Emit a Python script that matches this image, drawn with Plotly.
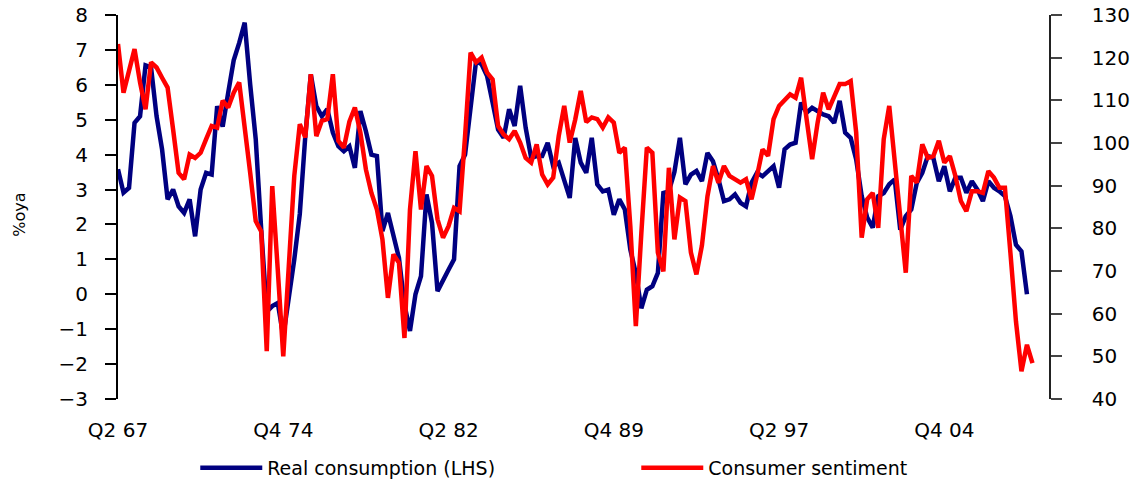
import plotly.graph_objects as go

# Quarterly categories starting Q2 1967
quarters = []
q, yr = 2, 1967
for _ in range(170):
    quarters.append(f"Q{q} {yr % 100:02d}")
    q += 1
    if q > 4:
        q = 1
        yr += 1

tick_labels = ["Q2 67", "Q4 74", "Q2 82", "Q4 89", "Q2 97", "Q4 04"]

# Real consumption, %oya (left axis)
consumption = [
    3.58, 2.91, 3.05, 4.91, 5.10, 6.56, 6.50, 5.10, 4.15, 2.72,
    3.00, 2.52, 2.33, 2.72, 1.66, 3.00, 3.48, 3.43, 5.39, 4.80,
    5.77, 6.70, 7.20, 7.78, 6.00, 4.45, 1.85, -0.50, -0.34, -0.25,
    -1.20, -0.20, 1.00, 2.30, 4.53, 6.30, 5.39, 5.10, 5.30, 4.63,
    4.24, 4.10, 4.24, 3.62, 5.25, 4.67, 4.00, 3.96, 1.81, 2.33,
    1.66, 1.04, -0.30, -1.05, 0.00, 0.52, 2.86, 2.05, 0.09, 0.37,
    0.70, 1.00, 3.67, 4.00, 5.39, 6.68, 6.59, 6.25, 5.49, 4.72,
    4.48, 5.30, 4.82, 5.97, 4.77, 3.91, 3.96, 3.96, 4.34, 3.67,
    3.77, 3.29, 2.76, 4.48, 3.77, 3.48, 4.48, 3.15, 2.95, 3.00,
    2.28, 2.72, 2.43, 1.28, 0.60, -0.40, 0.13, 0.23, 0.61, 2.90,
    2.95, 3.50, 4.48, 3.15, 3.43, 3.53, 3.24, 4.05, 3.81, 3.29,
    2.67, 2.72, 2.86, 2.62, 2.52, 3.19, 3.48, 3.38, 3.53, 3.67,
    3.05, 4.15, 4.29, 4.34, 5.49, 5.20, 5.34, 5.25, 5.15, 5.10,
    4.91, 5.54, 4.63, 4.48, 3.86, 2.81, 2.20, 1.91, 2.81, 2.90,
    3.15, 3.29, 1.85, 2.24, 2.43, 3.19, 3.48, 3.96, 3.91, 3.24,
    3.67, 2.95, 3.34, 3.34, 2.91, 3.24, 3.00, 2.67, 3.24, 3.05,
    2.95, 2.81, 2.24, 1.42, 1.23, 0.00,
]

# Consumer sentiment index (right axis)
sentiment = [
    123.2, 111.8, 116.9, 122.0, 114.2, 107.9, 118.9, 117.7, 115.3, 113.0,
    103.2, 93.0, 91.5, 97.3, 96.5, 97.7, 100.9, 104.0, 103.6, 109.9,
    108.3, 111.8, 114.2, 104.4, 93.0, 81.7, 79.3, 51.2, 89.9, 70.3,
    50.0, 71.1, 92.3, 104.4, 101.3, 116.1, 101.6, 105.2, 105.6, 116.1,
    100.5, 98.9, 105.0, 108.3, 102.4, 93.8, 88.3, 84.4, 77.4, 63.7,
    73.9, 71.9, 54.3, 84.4, 98.1, 84.4, 94.6, 92.3, 82.1, 77.8,
    80.5, 84.8, 84.0, 101.6, 121.2, 118.9, 120.0, 116.5, 114.9, 104.0,
    102.0, 100.9, 102.8, 100.1, 96.5, 95.4, 99.7, 92.6, 90.3, 91.9,
    101.6, 108.7, 100.1, 105.5, 112.2, 104.9, 106.0, 105.6, 103.6, 106.0,
    104.8, 97.7, 98.9, 80.5, 57.1, 78.9, 98.9, 97.7, 74.3, 69.9,
    94.2, 77.4, 87.2, 86.4, 74.3, 69.2, 76.0, 87.5, 94.6, 90.7,
    94.6, 92.3, 91.5, 90.7, 91.5, 86.8, 92.3, 98.5, 97.0, 105.6,
    108.7, 110.2, 111.4, 110.6, 115.3, 105.6, 96.2, 104.8, 111.8, 107.9,
    110.6, 113.8, 113.8, 114.5, 102.4, 77.8, 86.8, 88.3, 80.1, 100.9,
    108.7, 95.8, 82.5, 69.6, 92.3, 90.7, 99.7, 96.5, 96.9, 100.5,
    95.4, 96.9, 92.3, 86.4, 84.0, 88.7, 88.7, 88.3, 93.4, 91.9,
    89.5, 89.5, 74.2, 58.2, 46.5, 52.7, 48.4,
]

FONT = "DejaVu Sans"
tick_font = dict(family=FONT, size=20, color="black")

fig = go.Figure()
fig.add_trace(go.Scatter(
    x=quarters[:len(consumption)], y=consumption, mode="lines",
    name="Real consumption (LHS)",
    line=dict(color="#000080", width=4.5),
))
fig.add_trace(go.Scatter(
    x=quarters[:len(sentiment)], y=sentiment, mode="lines",
    name="Consumer sentiment", yaxis="y2",
    line=dict(color="#FF0000", width=4.5),
))

fig.update_layout(
    width=1130, height=484,
    margin=dict(l=118, r=81, t=15, b=85, autoexpand=False),
    paper_bgcolor="white", plot_bgcolor="white",
    xaxis=dict(
        type="category", range=[0, 169], automargin=False,
        tickvals=tick_labels, ticktext=tick_labels,
        showline=False, ticks="", showgrid=False, zeroline=False,
        tickfont=tick_font, ticklabelstandoff=17,
    ),
    xaxis2=dict(
        overlaying="x", anchor="free", position=3 / 11,
        type="linear", range=[0, 169], automargin=False,
        tickvals=[0, 30, 60, 90, 120, 150],
        showticklabels=False, showline=True, linecolor="black", linewidth=2,
        ticks="outside", ticklen=7, tickwidth=2, tickcolor="black",
        showgrid=False, zeroline=False,
    ),
    yaxis=dict(
        range=[-3, 8], tick0=0, dtick=1, automargin=False,
        showline=True, linecolor="black", linewidth=2,
        ticks="outside", ticklen=11, tickwidth=1.5, tickcolor="black",
        showgrid=False, zeroline=False,
        tickfont=tick_font, ticklabelstandoff=13,
    ),
    yaxis2=dict(
        overlaying="y", side="right", anchor="x", automargin=False,
        range=[40, 130], tick0=40, dtick=10,
        showline=True, linecolor="#222", linewidth=1.5,
        ticks="outside", ticklen=11, tickwidth=1.5, tickcolor="#444",
        showgrid=False, zeroline=False,
        tickfont=tick_font, ticklabelstandoff=26,
    ),
    yaxis3=dict(
        overlaying="y", side="right", anchor="x", automargin=False,
        range=[40, 130], tick0=40, dtick=10,
        showline=False, showticklabels=False,
        ticks="inside", ticklen=10, tickwidth=1.5, tickcolor="#444",
        showgrid=False, zeroline=False,
    ),
    legend=dict(
        orientation="h", x=0.083, xref="paper",
        y=16 / 484, yref="container", xanchor="left", yanchor="middle",
        font=dict(family=FONT, size=19, color="black"),
        itemwidth=62, entrywidth=364, bgcolor="rgba(0,0,0,0)",
    ),
    annotations=[dict(
        text="%oya", xref="paper", yref="paper",
        x=(20 - 118) / 931, y=0.48, xanchor="center", yanchor="middle",
        textangle=-90, showarrow=False,
        font=dict(family=FONT, size=16, color="black"),
    )],
)

fig.write_html(
    "out.html",
    config={"displayModeBar": False},
    post_script="document.body.style.margin='0';",
)
